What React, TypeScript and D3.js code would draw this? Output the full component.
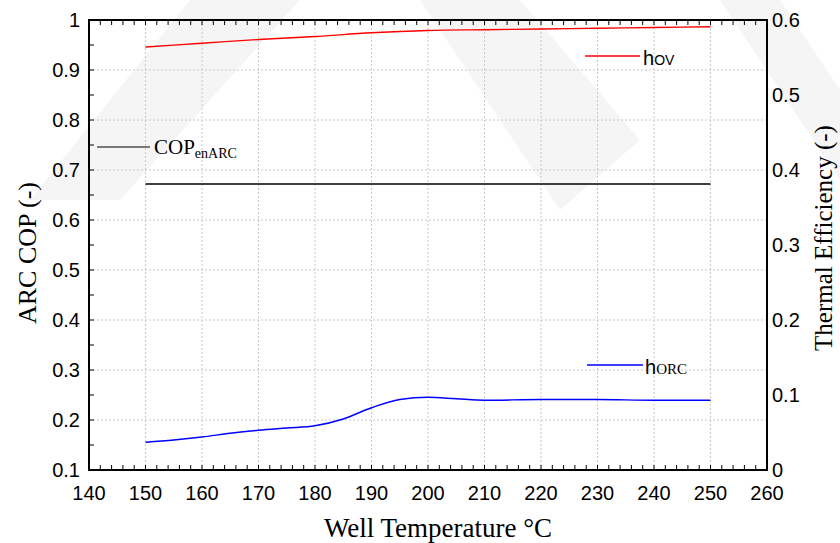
import React from "react";
import * as d3 from "d3";

const temps = [150, 160, 170, 180, 190, 200, 210, 220, 230, 240, 250];
const hovValues = [0.564, 0.569, 0.574, 0.578, 0.583, 0.586, 0.587, 0.588, 0.589, 0.590, 0.591];
const copTemps = [150, 250];
const copValues = [0.672, 0.672];
const orcTemps = [150, 155, 160, 165, 170, 175, 180, 185, 190, 195, 200, 205, 210, 220, 230, 240, 250];
const orcValues = [0.037, 0.040, 0.044, 0.049, 0.053, 0.056, 0.059, 0.068, 0.083, 0.094, 0.097, 0.095, 0.093, 0.094, 0.094, 0.093, 0.093];
const xTicks = [140, 150, 160, 170, 180, 190, 200, 210, 220, 230, 240, 250, 260];
const yLeftTicks = [0.1, 0.2, 0.3, 0.4, 0.5, 0.6, 0.7, 0.8, 0.9, 1];
const yRightTicks = [0, 0.1, 0.2, 0.3, 0.4, 0.5, 0.6];

const L = 89, R = 767, T = 20, B = 470;

export default function App() {
  const x = d3.scaleLinear().domain([140, 260]).range([L, R]);
  const yl = d3.scaleLinear().domain([0.1, 1]).range([B, T]);
  const yr = d3.scaleLinear().domain([0, 0.6]).range([B, T]);

  const hovLine = d3.line<number>().x((_, i) => x(temps[i])).y((d) => yr(d)).curve(d3.curveMonotoneX)(hovValues) || "";
  const copLine = d3.line<number>().x((_, i) => x(copTemps[i])).y((d) => yl(d))(copValues) || "";
  const orcLine = d3.line<number>().x((_, i) => x(orcTemps[i])).y((d) => yr(d)).curve(d3.curveMonotoneX)(orcValues) || "";

  const minorX = d3.range(140, 260.001, 2);
  const minorY = d3.range(0.1, 1.0001, 0.05);

  const sans = "Liberation Sans, Arial, sans-serif";
  const serif = "Liberation Serif, Times New Roman, serif";

  return (
    <svg width={840} height={543} style={{ position: "absolute", left: 0, top: 0, background: "#fff" }}>
      {/* watermark */}
      <g fill="#f5f5f5">
        <polygon points="190,0 300,0 120,200 30,200" />
        <polygon points="420,0 520,0 640,140 560,210" />
        <polygon points="720,0 780,0 840,90 840,180" />
      </g>
      {/* grid */}
      <g stroke="#c8c8c8" strokeWidth={1} strokeDasharray="2,2">
        {xTicks.slice(1, -1).map((t) => (
          <line key={"gx" + t} x1={x(t)} x2={x(t)} y1={T} y2={B} />
        ))}
        {yLeftTicks.slice(1, -1).map((t) => (
          <line key={"gy" + t} x1={L} x2={R} y1={yl(t)} y2={yl(t)} />
        ))}
      </g>
      {/* ticks */}
      <g stroke="#000" strokeWidth={1}>
        {minorX.map((t) => (
          <g key={"tx" + t}>
            <line x1={x(t)} x2={x(t)} y1={B} y2={B - 5} />
            <line x1={x(t)} x2={x(t)} y1={T} y2={T + 5} />
          </g>
        ))}
        {minorY.map((t) => (
          <line key={"ty" + t} x1={L} x2={L + 5} y1={yl(t)} y2={yl(t)} />
        ))}
      </g>
      {/* frame */}
      <rect x={L} y={T} width={R - L} height={B - T} fill="none" stroke="#000" strokeWidth={2} />
      {/* lines */}
      <path d={hovLine} fill="none" stroke="#ff0000" strokeWidth={1.3} />
      <path d={copLine} fill="none" stroke="#000" strokeWidth={1.3} />
      <path d={orcLine} fill="none" stroke="#0000ff" strokeWidth={1.5} />
      {/* tick labels */}
      <g fontFamily={sans} fontSize={20} fill="#000">
        {xTicks.map((t) => (
          <text key={"lx" + t} x={x(t)} y={500} textAnchor="middle">{t}</text>
        ))}
        {yLeftTicks.map((t) => (
          <text key={"ly" + t} x={80} y={yl(t)} dy="0.35em" textAnchor="end">{d3.format("~g")(t)}</text>
        ))}
        {yRightTicks.map((t) => (
          <text key={"lr" + t} x={772} y={yr(t)} dy="0.35em" textAnchor="start">{d3.format("~g")(t)}</text>
        ))}
      </g>
      {/* axis titles */}
      <text x={438} y={537} textAnchor="middle" fontFamily={serif} fontSize={27}>Well Temperature °C</text>
      <text transform="translate(36,253) rotate(-90)" textAnchor="middle" fontFamily={serif} fontSize={26}>ARC COP (-)</text>
      <text transform="translate(832,238) rotate(-90)" textAnchor="middle" fontFamily={serif} fontSize={25}>Thermal Efficiency (-)</text>
      {/* legends */}
      <line x1={585} x2={640} y1={56} y2={56} stroke="#ff0000" strokeWidth={1.3} />
      <text x={643} y={65} fontFamily={sans} fontSize={20}>h<tspan fontSize={14}>OV</tspan></text>
      <line x1={587} x2={643} y1={365} y2={365} stroke="#0000ff" strokeWidth={1.3} />
      <text x={645} y={374} fontFamily={sans} fontSize={20}>h<tspan fontFamily={serif} fontSize={15}>ORC</tspan></text>
      <line x1={97} x2={150} y1={147} y2={147} stroke="#000" strokeWidth={1.2} />
      <text x={154} y={154} fontFamily={serif} fontSize={21}>COP<tspan fontSize={14} dy={4}>enARC</tspan></text>
    </svg>
  );
}
